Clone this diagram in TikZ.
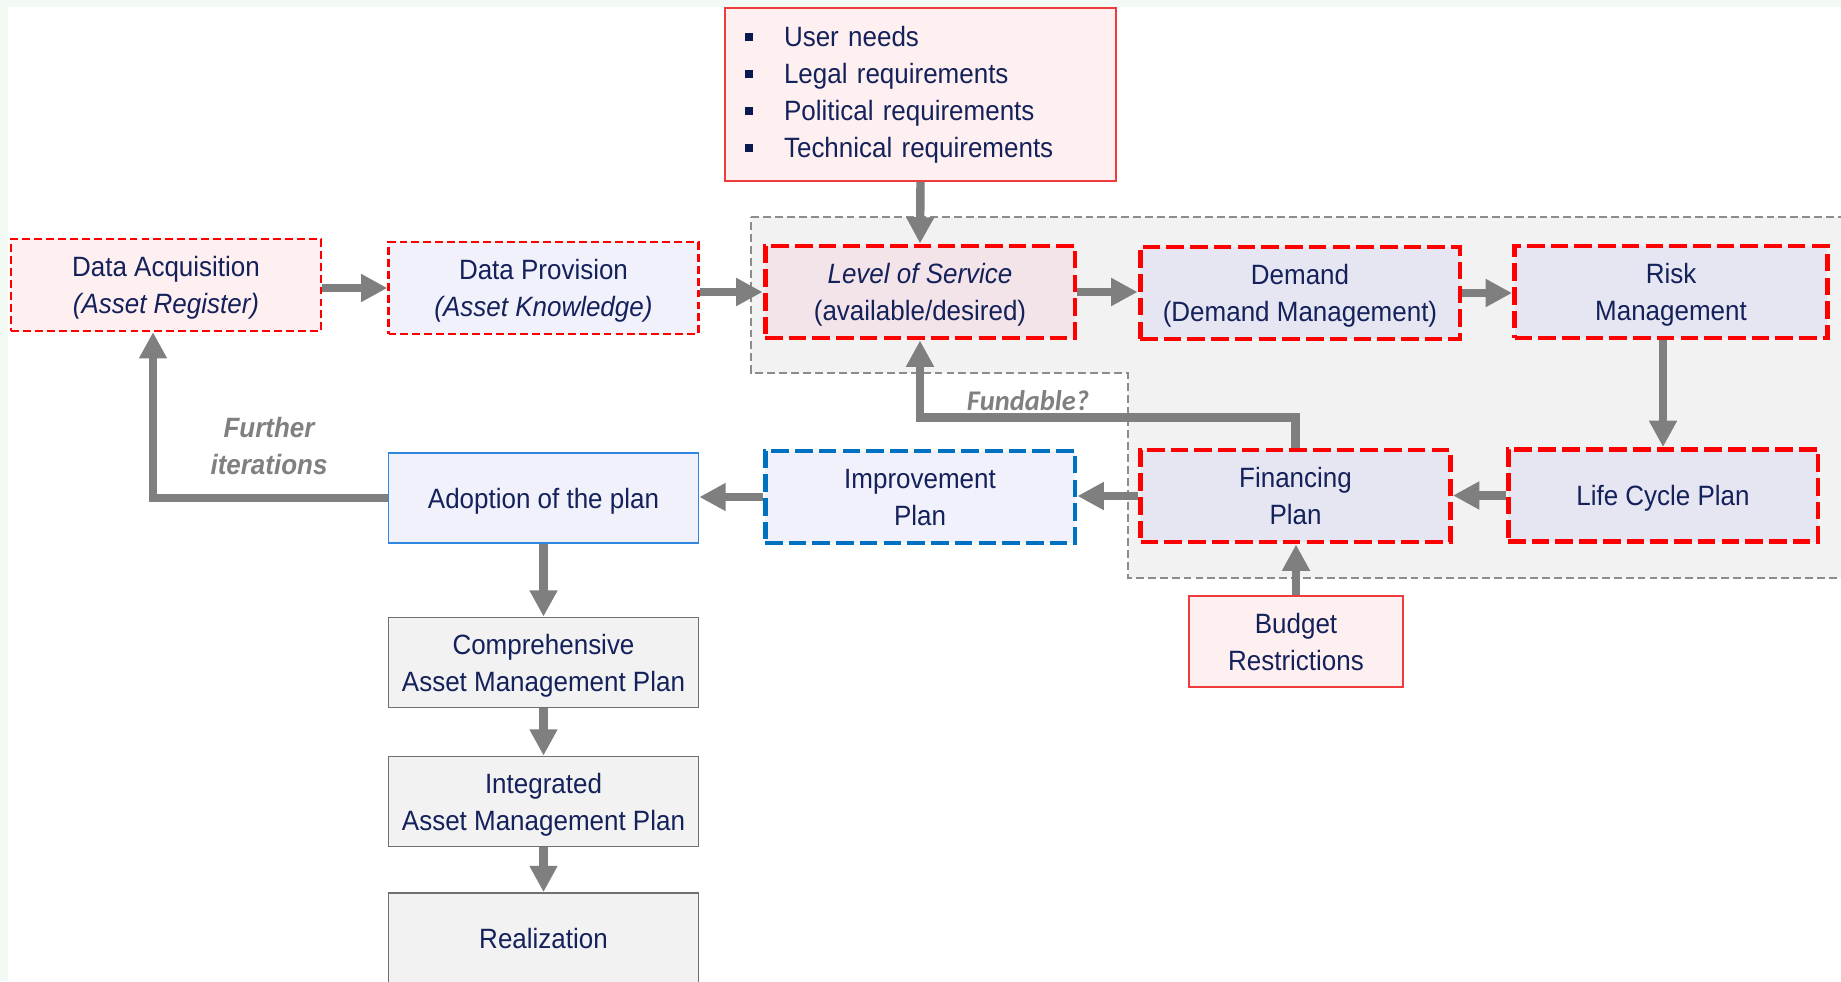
\documentclass[tikz,border=0pt]{standalone}
\usepackage{fontspec}
\setmainfont{Liberation Sans}[FakeStretch=0.93]
\newfontfamily\calibrifont{Carlito}
\usepackage{xcolor}
\usetikzlibrary{arrows.meta}

\definecolor{mintbg}{HTML}{F3F9F3}
\definecolor{textnavy}{HTML}{14215A}
\definecolor{bulletnavy}{HTML}{0A1A50}
\definecolor{dashred}{HTML}{FF0000}
\definecolor{reqred}{HTML}{EE3B3B}
\definecolor{pinkfill}{HTML}{FEF0F0}
\definecolor{rosefill}{HTML}{F2E4E8}
\definecolor{lavfill}{HTML}{E6E6F2}
\definecolor{palefill}{HTML}{F1F1FC}
\definecolor{greyfill}{HTML}{F2F2F2}
\definecolor{boxgrey}{HTML}{707070}
\definecolor{regiongrey}{HTML}{8C8C8C}
\definecolor{arrowgray}{HTML}{7F7F7F}
\definecolor{notegray}{HTML}{808080}
\definecolor{dashblue}{HTML}{0070C0}
\definecolor{adoptblue}{HTML}{2E86DE}

\newcommand\reqbullet{\textcolor{bulletnavy}{\rule[0.18em]{0.16cm}{0.16cm}}\hspace{0.62cm}}

\begin{document}
\begin{tikzpicture}[x=0.02cm, y=-0.02cm,
	box/.style={minimum width=6.2cm, minimum height=1.84cm, align=center,
		text=textnavy, font=\fontsize{15.9}{21}\selectfont},
	lowtext/.style={text depth=-1pt},
	thindash/.style={box, lowtext, draw=dashred, line width=1.3pt, dash pattern=on 4.5pt off 2.3pt},
	thickdash/.style={box, lowtext, line width=2.8pt, dash pattern=on 10pt off 3.5pt},
	solidbox/.style={box, lowtext, line width=1pt},
	flow/.style={draw=arrowgray, line width=4.8pt, -{Triangle[length=15pt,width=15pt]}},
	note/.style={text=notegray, align=center, font=\fontsize{15.9}{21}\selectfont\bfseries\itshape}]
	
	\clip (0,0) rectangle (1841,981);
	\fill[mintbg] (0,0) rectangle (1841,981);
	\fill[white] (8,7) rectangle (1841,981);
	
	% grey area round the core steps
	\draw[regiongrey, fill=greyfill, line width=1.3pt, dash pattern=on 4.5pt off 2.3pt]
		(751,217) -- (1860,217) -- (1860,578) -- (1128,578) -- (1128,373) -- (751,373) -- cycle;
	
	% top row
	\node[thindash, fill=pinkfill] (acq) at (166,285) {Data Acquisition\\\textit{(Asset Register)}};
	\node[thindash, fill=palefill] (prov) at (543.5,288) {Data Provision\\\textit{(Asset Knowledge)}};
	\node[thickdash, draw=dashred, fill=rosefill] (los) at (920,292) {\textit{Level of Service}\\(available/desired)};
	\node[thickdash, draw=dashred, fill=lavfill, minimum width=6.4cm] (dem) at (1300,293) {Demand\\(Demand Management)};
	\node[thickdash, draw=dashred, fill=lavfill, minimum width=6.26cm] (risk) at (1671,292) {Risk\\Management};
	
	\node[box, line width=1pt, draw=reqred, fill=pinkfill, minimum width=7.82cm, minimum height=3.46cm,
		align=left, text width=7.02cm, inner xsep=0.4cm] (req) at (920.5,94.5)
		{\reqbullet User needs\\\reqbullet Legal requirements\\\reqbullet Political requirements\\\reqbullet Technical requirements};
	
	% middle row
	\node[solidbox, draw=adoptblue, fill=palefill, minimum height=1.8cm] (adopt) at (543.5,498) {Adoption of the plan};
	\node[thickdash, draw=dashblue, fill=palefill] (impr) at (920,497) {Improvement\\Plan};
	\node[thickdash, draw=dashred, fill=lavfill] (fin) at (1295.5,496) {Financing\\Plan};
	\node[thickdash, draw=dashred, fill=lavfill] (life) at (1663,495.5) {Life Cycle Plan};
	
	\node[solidbox, draw=reqred, fill=pinkfill, minimum width=4.28cm, minimum height=1.82cm] (budget) at (1296,641.5) {Budget\\Restrictions};
	
	% plan outputs
	\node[solidbox, draw=boxgrey, fill=greyfill, minimum height=1.8cm] (comp) at (543.5,662.5) {Comprehensive\\Asset Management Plan};
	\node[solidbox, draw=boxgrey, fill=greyfill, minimum height=1.8cm] (integ) at (543.5,801.5) {Integrated\\Asset Management Plan};
	\node[solidbox, draw=boxgrey, fill=greyfill, minimum height=1.8cm] (real) at (543.5,938) {Realization};
	
	% notes
	\node[note] (further) at (269,446) {Further\\iterations};
	\node[note, font=\fontsize{16.2}{19}\selectfont\calibrifont\bfseries\itshape] (fundable) at (1028,401) {Fundable?};
	
	% arrows
	\draw[flow] (acq.east |- prov.west) -- (prov.west);
	\draw[flow] (prov.east |- los.west) -- (los.west);
	\draw[flow] (los.east) -- (los.east -| dem.west);
	\draw[flow] (dem.east) -- (dem.east -| risk.west);
	\draw[flow] (req.south) -- (los.north);
	\draw[flow] (life.north |- risk.south) -- (life.north);
	\draw[flow] (life.west) -- (life.west -| fin.east);
	\draw[flow] (fin.west) -- (fin.west -| impr.east);
	\draw[flow] (impr.west) -- (impr.west -| adopt.east);
	\draw[flow] (budget.north) -- (budget.north |- fin.south);
	\draw[flow] (fin.north) -- ++(0,-30) -| (los.south);
	\draw[flow] (adopt.west) -| ([xshift=-0.26cm]acq.south);
	\draw[flow] (adopt.south) -- (comp.north);
	\draw[flow] (comp.south) -- (integ.north);
	\draw[flow] (integ.south) -- (real.north);
\end{tikzpicture}
\end{document}
